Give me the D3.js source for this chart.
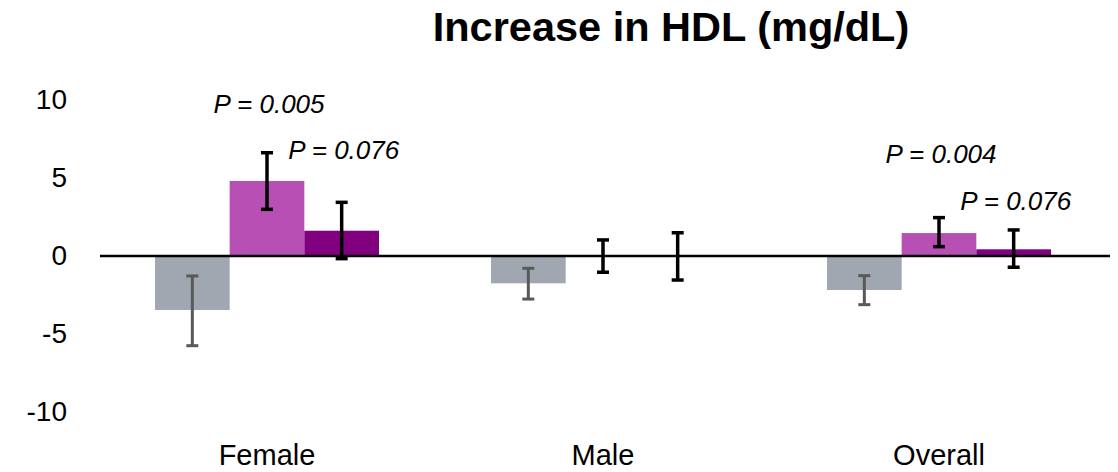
<!DOCTYPE html>
<html>
<head>
<meta charset="utf-8">
<script src="https://cdn.jsdelivr.net/npm/d3@7"></script>
<style>
  html, body { margin: 0; padding: 0; background: #fff; }
  svg { display: block; font-family: "Liberation Sans", Arial, sans-serif; }
</style>
</head>
<body>
<svg id="chart" width="1118" height="472"></svg>
<script>
// ---- Data ----
const categories = ["Female", "Male", "Overall"];
const seriesNames = ["Control", "Treatment A", "Treatment B"];
const seriesColors = ["#a0a7b1", "#b84fb5", "#800080"];
const errorColors = ["#595959", "#000000", "#000000"];
const valuesControl = [-3.46, -1.75, -2.18];
const valuesA = [4.81, 0.0, 1.47];
const valuesB = [1.62, 0.0, 0.43];
const errLowControl = [-5.75, -2.76, -3.12];
const errHighControl = [-1.28, -0.79, -1.26];
const errLowA = [2.99, -1.04, 0.60];
const errHighA = [6.62, 1.03, 2.46];
const errLowB = [-0.17, -1.54, -0.72];
const errHighB = [3.44, 1.49, 1.67];
const yTicks = [10, 5, 0, -5, -10];
const annotationText = ["P = 0.005", "P = 0.076", "P = 0.004", "P = 0.076"];
const annotationCategory = ["Female", "Female", "Overall", "Overall"];
const annotationSeries = [1, 2, 1, 2];
const annotationLevel = [9.17, 6.22, 5.96, 2.95];
const title = "Increase in HDL (mg/dL)";

// ---- Build table ----
const seriesValues = [valuesControl, valuesA, valuesB];
const seriesLow = [errLowControl, errLowA, errLowB];
const seriesHigh = [errHighControl, errHighA, errHighB];
const rows = [];
categories.forEach((c, ci) => {
  seriesNames.forEach((s, si) => {
    rows.push({ cat: c, si, value: seriesValues[si][ci], lo: seriesLow[si][ci], hi: seriesHigh[si][ci] });
  });
});

const svg = d3.select("#chart");
const x0 = d3.scaleBand().domain(categories).range([99, 1107]).paddingInner(1/3).paddingOuter(1/6);
const x1 = d3.scaleBand().domain(d3.range(seriesNames.length)).range([0, x0.bandwidth()]);
const y = d3.scaleLinear().domain([-10, 10]).range([412, 100]);

// Title
svg.append("text")
  .attr("x", 671).attr("y", 41)
  .attr("text-anchor", "middle")
  .attr("font-size", 41.5).attr("font-weight", "bold")
  .attr("fill", "#000")
  .text(title);

// Y axis (labels only)
const yAxis = svg.append("g")
  .attr("transform", "translate(100,0)")
  .call(d3.axisLeft(y).tickValues(yTicks).tickSize(0).tickPadding(33).tickFormat(d => String(d)));
yAxis.select(".domain").remove();
yAxis.selectAll("text").attr("font-size", 28).attr("fill", "#000").attr("font-family", "Liberation Sans, Arial, sans-serif");

// X axis (labels only)
const xAxis = svg.append("g")
  .attr("transform", `translate(0,${y(-10)})`)
  .call(d3.axisBottom(x0).tickSize(0).tickPadding(32));
xAxis.select(".domain").remove();
xAxis.selectAll("text").attr("font-size", 29).attr("fill", "#000").attr("font-family", "Liberation Sans, Arial, sans-serif");

// Bars
svg.append("g").selectAll("rect").data(rows).join("rect")
  .attr("x", d => x0(d.cat) + x1(d.si))
  .attr("width", x1.bandwidth())
  .attr("y", d => y(Math.max(0, d.value)))
  .attr("height", d => Math.abs(y(d.value) - y(0)))
  .attr("fill", d => seriesColors[d.si]);

// Zero line
svg.append("line")
  .attr("x1", 100).attr("x2", 1110)
  .attr("y1", y(0)).attr("y2", y(0))
  .attr("stroke", "#000").attr("stroke-width", 2.5);

// Error bars
const eg = svg.append("g").selectAll("g").data(rows).join("g")
  .attr("stroke", d => errorColors[d.si])
  .attr("stroke-width", d => d.si === 0 ? 3 : 3.5);
const cx = d => x0(d.cat) + x1(d.si) + x1.bandwidth() / 2;
eg.append("line").attr("x1", cx).attr("x2", cx).attr("y1", d => y(d.lo)).attr("y2", d => y(d.hi));
eg.append("line").attr("x1", d => cx(d) - 6).attr("x2", d => cx(d) + 6).attr("y1", d => y(d.lo)).attr("y2", d => y(d.lo));
eg.append("line").attr("x1", d => cx(d) - 6).attr("x2", d => cx(d) + 6).attr("y1", d => y(d.hi)).attr("y2", d => y(d.hi));

// P-value annotations
svg.append("g").selectAll("text").data(annotationText).join("text")
  .attr("x", (t, i) => x0(annotationCategory[i]) + x1(annotationSeries[i]) + x1.bandwidth() / 2 + 2)
  .attr("y", (t, i) => y(annotationLevel[i]))
  .attr("text-anchor", "middle")
  .attr("font-size", 26).attr("font-style", "italic")
  .attr("fill", "#000")
  .text(t => t);
</script>
</body>
</html>
